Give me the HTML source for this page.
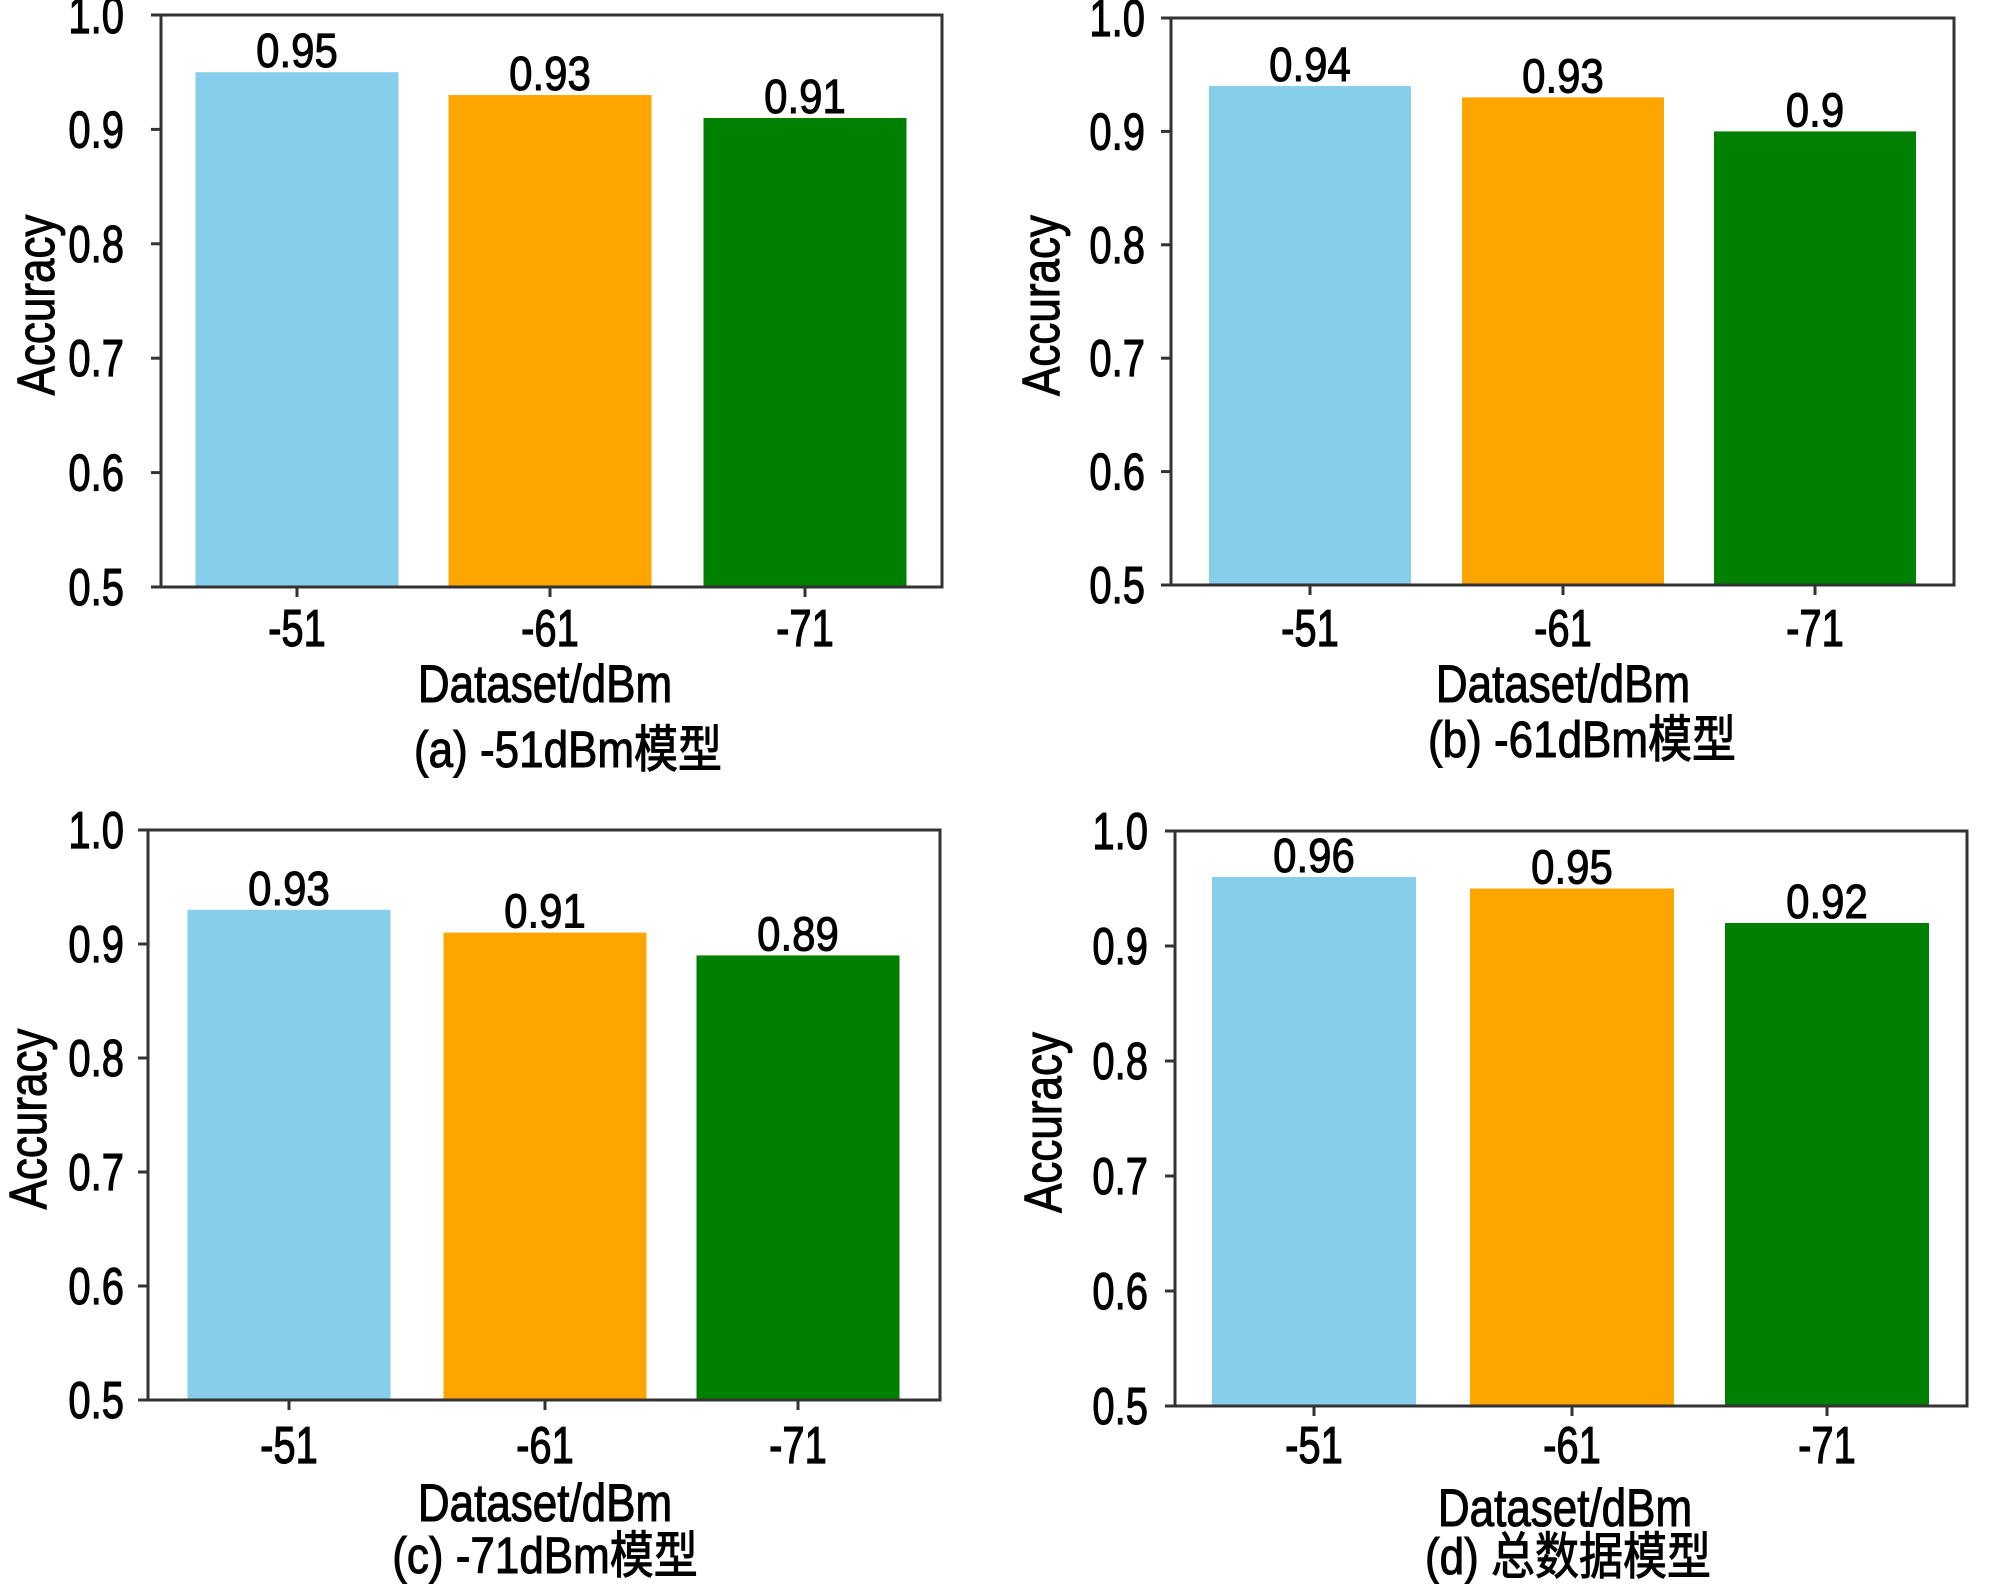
<!DOCTYPE html>
<html><head><meta charset="utf-8"><style>
html,body{margin:0;padding:0;background:#fff;}
svg{display:block;font-family:"Liberation Sans","Noto Sans CJK SC",sans-serif;}
text{stroke:#000;stroke-width:0.9px;}
</style></head><body>
<svg id="fig" width="2000" height="1584" viewBox="0 0 2000 1584" xmlns="http://www.w3.org/2000/svg"></svg>
<script>
const categories = ["-51", "-61", "-71"];
const valuesA = [0.95, 0.93, 0.91];
const valuesB = [0.94, 0.93, 0.9];
const valuesC = [0.93, 0.91, 0.89];
const valuesD = [0.96, 0.95, 0.92];
const valueLabelsA = ["0.95", "0.93", "0.91"];
const valueLabelsB = ["0.94", "0.93", "0.9"];
const valueLabelsC = ["0.93", "0.91", "0.89"];
const valueLabelsD = ["0.96", "0.95", "0.92"];
const yTicks = [0.5, 0.6, 0.7, 0.8, 0.9, 1.0];
const yTickLabels = ["0.5", "0.6", "0.7", "0.8", "0.9", "1.0"];
const captions = ["(a) -51dBm模型", "(b) -61dBm模型", "(c) -71dBm模型", "(d) 总数据模型"];
const colors = ["#87ceeb", "#ffa500", "#008000"];

const NS = "http://www.w3.org/2000/svg";
const svg = document.getElementById("fig");
function mk(tag, attrs, parent, text) {
  const e = document.createElementNS(NS, tag);
  for (const k in attrs) e.setAttribute(k, attrs[k]);
  if (text !== undefined) e.textContent = text;
  parent.appendChild(e);
  return e;
}
function txt(parent, x, y, size, anchor, s, sy) {
  return mk("text", {x: 0, y: 0, "text-anchor": anchor, "font-size": size, fill: "#000",
    transform: `translate(${x} ${y}) scale(1 ${sy})`}, parent, s);
}
const panels = [
  {id:"a", vals:valuesA, labs:valueLabelsA, cap:captions[0], l:161, r:942, t:15, b:587, bw:203, ticks:[297,550,805], ylx:124, ytx:38, xl:628, xt:684, cy:750, cx:568, xtx:545},
  {id:"b", vals:valuesB, labs:valueLabelsB, cap:captions[1], l:1171, r:1954, t:18, b:585, bw:202, ticks:[1310,1563,1815], ylx:1145, ytx:1043, xl:628, xt:684, cy:740, cx:1582, xtx:1563},
  {id:"c", vals:valuesC, labs:valueLabelsC, cap:captions[2], l:148, r:940, t:830, b:1400, bw:203, ticks:[289,545,798], ylx:124, ytx:30, xl:1445, xt:1503, cy:1556, cx:545, xtx:545},
  {id:"d", vals:valuesD, labs:valueLabelsD, cap:captions[3], l:1175, r:1967, t:831, b:1406, bw:204, ticks:[1314,1572,1827], ylx:1148, ytx:1045, xl:1445, xt:1508, cy:1557, cx:1568, xtx:1565}
];
panels.forEach(p => {
  const g = mk("g", {}, svg);
  
  
  const y = v => p.b - (v - 0.5) / 0.5 * (p.b - p.t);
  p.vals.forEach((v, i) => {
    const cx = p.ticks[i];
    const bar = mk("rect", {x: cx - p.bw/2, y: y(v), width: p.bw, height: p.b - y(v), fill: colors[i]}, g);
    
    
    const lab = txt(g, cx, y(v) - 5, 42, "middle", p.labs[i], 1.15);
    
    
  });
  const fr = mk("rect", {x: p.l, y: p.t, width: p.r - p.l, height: p.b - p.t, fill: "none", stroke: "#333", "stroke-width": 3}, g);
  
  
  yTicks.forEach((v, i) => {
    mk("line", {x1: p.l - 10, x2: p.l, y1: y(v), y2: y(v), stroke: "#333", "stroke-width": 3}, g);
    const t = txt(g, p.ylx, y(v) + 18, 40, "end", yTickLabels[i], 1.3);
    
    
  });
  categories.forEach((c, i) => {
    mk("line", {x1: p.ticks[i], x2: p.ticks[i], y1: p.b, y2: p.b + 10, stroke: "#333", "stroke-width": 3}, g);
    const t = txt(g, p.ticks[i], p.xl + 18, 40, "middle", c, 1.3);
    
    
  });
  const cxT = p.ytx + 16, cyT = (p.t + p.b) / 2 + 4;
  const yt = mk("text", {x: 0, y: 0, "text-anchor": "middle", "font-size": 44, fill: "#000",
    transform: `translate(${cxT} ${cyT}) rotate(-90) scale(1 1.2)`}, g, "Accuracy");
  
  
  const xt = txt(g, p.xtx, p.xt + 18, 44, "middle", "Dataset/dBm", 1.2);
  
  
  const cp = txt(g, p.cx, p.cy + 17, 44, "middle", p.cap, 1.15);
  
  
});
</script>
</body></html>
